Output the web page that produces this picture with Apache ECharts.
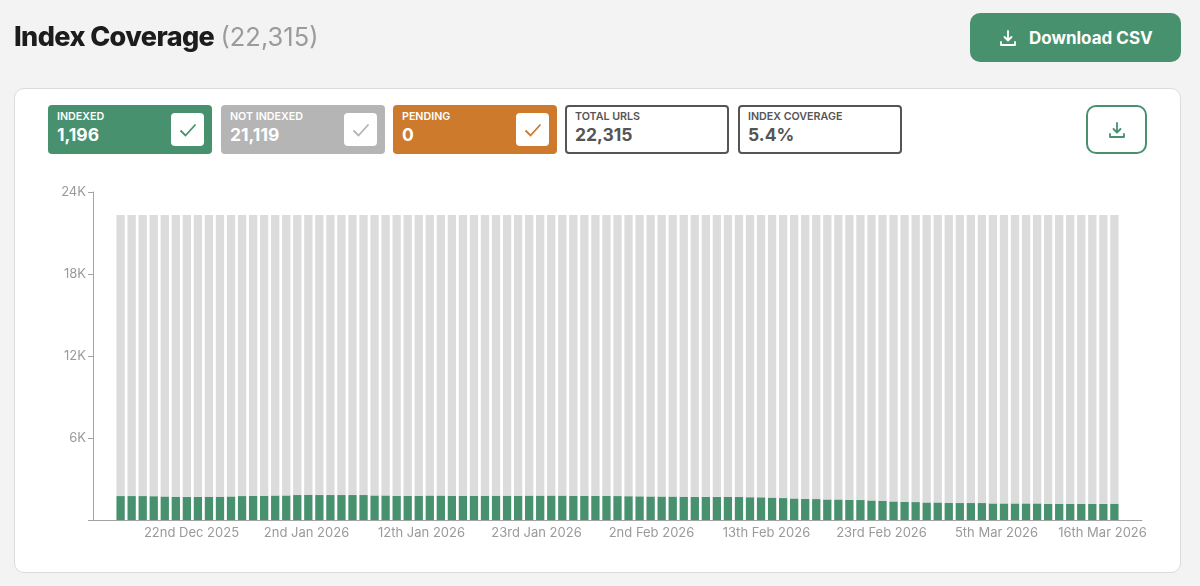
<!DOCTYPE html>
<html>
<head>
<meta charset="utf-8">
<title>Index Coverage</title>
<script src="https://cdn.jsdelivr.net/npm/echarts@6/dist/echarts.min.js"></script>
<style>
  * { box-sizing: border-box; }
  html, body { margin: 0; width: 1200px; height: 586px; overflow: hidden; background: #f3f3f3; font-family: Inter, "Noto Sans", sans-serif; }
  .abs { position: absolute; }
  #title { left: 14px; top: 20px; font-size: 27px; line-height: 34px; font-weight: 800; color: #1c1c1c; letter-spacing: -0.6px; white-space: nowrap; }
  #title span { margin-left: 1px; font-size: 25.5px; font-weight: 400; color: #9b9b9b; letter-spacing: 0; }
  #csv { left: 970px; top: 13px; width: 211px; height: 49px; border-radius: 10px; background: #47916f; color: #fff; font-size: 17px; font-weight: 700; display: flex; align-items: center; padding-left: 29px; gap: 12px; white-space: nowrap; }
  #card { left: 14px; top: 88px; width: 1167px; height: 485px; border-radius: 10px; background: #fff; border: 1px solid #dcdcdc; }
  #chart { left: 0; top: 0; width: 1200px; height: 586px; }
  .chip { top: 105px; width: 164px; height: 49px; border-radius: 4px; color: #fff; padding: 5px 0 0 9px; }
  .chip b { display: block; font-size: 10.7px; line-height: 13px; font-weight: 600; white-space: nowrap; }
  .chip i { display: block; font-style: normal; font-size: 17.5px; line-height: 23px; font-weight: 700; }
  .outline { background: #fff; border: 2px solid #555; color: #555; padding: 3px 0 0 8px; }
  .box { position: absolute; left: 123px; top: 8px; width: 33px; height: 33px; border-radius: 4px; background: #fff; display: flex; align-items: center; justify-content: center; }
  #dl { left: 1086px; top: 105px; width: 61px; height: 49px; border: 2px solid #47916f; border-radius: 10px; background: #fff; display: flex; align-items: center; justify-content: center; }
</style>
</head>
<body>
<div id="card" class="abs"></div>
<div id="chart" class="abs"></div>
<div id="title" class="abs">Index Coverage <span>(22,315)</span></div>
<div id="csv" class="abs">
  <svg width="18" height="18" viewBox="0 0 18 18" fill="none" stroke="#fff" stroke-width="1.8" stroke-linecap="round" stroke-linejoin="round"><path d="M9 2v9M5.5 8 9 11.5 12.5 8M2 13v3h14v-3"/></svg>
  Download CSV
</div>
<div class="abs chip" style="left:48px;background:#47916f"><b>INDEXED</b><i>1,196</i>
  <div class="box"><svg width="18" height="14" viewBox="0 0 18 14" fill="none" stroke="#47916f" stroke-width="1.8"><path d="M1.5 7.5 6.5 12.5 16.5 1.5"/></svg></div></div>
<div class="abs chip" style="left:221px;background:#b5b5b5"><b>NOT INDEXED</b><i>21,119</i>
  <div class="box"><svg width="18" height="14" viewBox="0 0 18 14" fill="none" stroke="#b5b5b5" stroke-width="1.8"><path d="M1.5 7.5 6.5 12.5 16.5 1.5"/></svg></div></div>
<div class="abs chip" style="left:393px;background:#cd7a2c"><b>PENDING</b><i>0</i>
  <div class="box"><svg width="18" height="14" viewBox="0 0 18 14" fill="none" stroke="#cd7a2c" stroke-width="1.8"><path d="M1.5 7.5 6.5 12.5 16.5 1.5"/></svg></div></div>
<div class="abs chip outline" style="left:565px"><b>TOTAL URLS</b><i>22,315</i></div>
<div class="abs chip outline" style="left:738px"><b>INDEX COVERAGE</b><i>5.4%</i></div>
<div id="dl" class="abs">
  <svg width="18" height="18" viewBox="0 0 18 18" fill="none" stroke="#47916f" stroke-width="1.8" stroke-linecap="round" stroke-linejoin="round"><path d="M9 2v9M5.5 8 9 11.5 12.5 8M2 13v3h14v-3"/></svg>
</div>

<script>
// one bar per day, 16 Dec 2025 to 16 Mar 2026
const days = [
  '16 Dec','17 Dec','18 Dec','19 Dec','20 Dec','21 Dec','22 Dec','23 Dec','24 Dec','25 Dec','26 Dec','27 Dec','28 Dec','29 Dec','30 Dec','31 Dec',
  '1 Jan','2 Jan','3 Jan','4 Jan','5 Jan','6 Jan','7 Jan','8 Jan','9 Jan','10 Jan','11 Jan','12 Jan','13 Jan','14 Jan','15 Jan','16 Jan','17 Jan','18 Jan','19 Jan','20 Jan','21 Jan','22 Jan','23 Jan','24 Jan','25 Jan','26 Jan','27 Jan','28 Jan','29 Jan','30 Jan','31 Jan',
  '1 Feb','2 Feb','3 Feb','4 Feb','5 Feb','6 Feb','7 Feb','8 Feb','9 Feb','10 Feb','11 Feb','12 Feb','13 Feb','14 Feb','15 Feb','16 Feb','17 Feb','18 Feb','19 Feb','20 Feb','21 Feb','22 Feb','23 Feb','24 Feb','25 Feb','26 Feb','27 Feb','28 Feb',
  '1 Mar','2 Mar','3 Mar','4 Mar','5 Mar','6 Mar','7 Mar','8 Mar','9 Mar','10 Mar','11 Mar','12 Mar','13 Mar','14 Mar','15 Mar','16 Mar'
];
const indexed = [
  1750,1750,1750,1745,1725,1705,1700,1700,1705,1705,1725,1750,1770,1775,1795,1800,1825,1850,1825,1825,1825,1825,1825,1800,1800,1775,1775,1775,
  1790,1790,1775,1775,1775,1775,1780,1780,1780,1785,1785,1790,1785,
  1775,1775,1770,1760,1750,1745,1730,1725,1720,1715,
  1705,1700,1700,1695,1690,1680,1670,1660,1640,
  1604,1580,1555,1530,1505,1505,1480,1460,1435,1410,1360,1335,1310,1285,1285,1265,1240,1240,1240,1215,1215,1215,1215,1215,1190,1190,1170,1170,1170,1180,1196
];
const notIndexed = [
  20565,20565,20565,20570,20590,20610,20615,20615,20610,20610,20590,20565,20545,20540,20520,20515,20490,20465,20490,20490,20490,20490,20490,20515,20515,20540,20540,20540,
  20525,20525,20540,20540,20540,20540,20535,20535,20535,20530,20530,20525,20530,
  20540,20540,20545,20555,20565,20570,20585,20590,20595,20600,
  20610,20615,20615,20620,20625,20635,20645,20655,20675,
  20711,20735,20760,20785,20810,20810,20835,20855,20880,20905,20955,20980,21005,21030,21030,21050,21075,21075,21075,21100,21100,21100,21100,21100,21125,21125,21145,21145,21145,21135,21119
];
const tickLabels = ['22nd Dec 2025','2nd Jan 2026','12th Jan 2026','23rd Jan 2026','2nd Feb 2026','13th Feb 2026','23rd Feb 2026','5th Mar 2026','16th Mar 2026'];
const yTicks = { max: 24000, step: 6000 };

// empty slots either side keep the bars off the axis ends
const gap = ['', ''];
const cats = gap.concat(days, gap);
const pad = [null, null];

const axisColor = '#a3a3a3';
const labelColor = '#9a9a9a';
const font = 'Inter, "Noto Sans", sans-serif';

const chart = echarts.init(document.getElementById('chart'), null, { renderer: 'canvas' });
chart.setOption({
  animation: false,
  backgroundColor: 'transparent',
  grid: [
    { left: 93, top: 192, width: 1049, height: 328 },
    // labels sit on their own even spacing, not on the day bands
    { left: 134, top: 192, width: 1035, height: 328 }
  ],
  xAxis: [
    {
      type: 'category', data: cats, gridIndex: 0,
      axisLine: { lineStyle: { color: axisColor, width: 1 } },
      axisTick: { show: false }, axisLabel: { show: false }
    },
    {
      type: 'category', data: tickLabels, gridIndex: 1,
      axisLine: { show: false }, axisTick: { show: false },
      axisLabel: {
        show: true, interval: 0, margin: 7, color: labelColor, fontSize: 13, fontFamily: font,
        hideOverlap: false,
        formatter: v => v === tickLabels[tickLabels.length - 1] ? '{last|' + v + '}' : v,
        rich: { last: { color: labelColor, fontSize: 13, fontFamily: font, padding: [0, 18, 0, 0] } }
      }
    }
  ],
  yAxis: [
    {
      type: 'value', gridIndex: 0, min: 0, max: yTicks.max, interval: yTicks.step,
      splitLine: { show: false },
      axisLine: { show: true, lineStyle: { color: axisColor, width: 1 } },
      axisTick: { show: true, length: 5, lineStyle: { color: axisColor } },
      axisLabel: { margin: 7, color: labelColor, fontSize: 13, fontFamily: font, formatter: v => v === 0 ? '' : (v / 1000) + 'K' }
    },
    { type: 'value', gridIndex: 1, show: false, min: 0, max: yTicks.max }
  ],
  series: [
    { name: 'Indexed', type: 'bar', stack: 'urls', xAxisIndex: 0, yAxisIndex: 0, barWidth: 8.3, data: pad.concat(indexed, pad), itemStyle: { color: '#47916f' } },
    { name: 'Not indexed', type: 'bar', stack: 'urls', xAxisIndex: 0, yAxisIndex: 0, barWidth: 8.3, data: pad.concat(notIndexed, pad), itemStyle: { color: '#dcdcdc' } }
  ]
});
</script>
</body>
</html>
